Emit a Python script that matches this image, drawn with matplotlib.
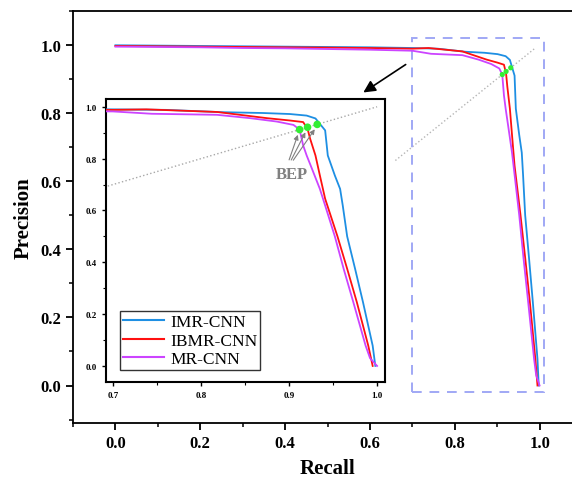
import matplotlib
matplotlib.use("Agg")
import matplotlib.pyplot as plt
from matplotlib.patches import Rectangle
import numpy as np

plt.rcParams['font.family'] = ['Liberation Serif', 'DejaVu Serif']

# precision-recall curves
recall_imr = [0.0, 0.1, 0.2, 0.3, 0.4, 0.5, 0.6, 0.7, 0.76, 0.825, 0.87, 0.901, 0.92,
              0.93, 0.935, 0.941, 0.944, 0.952, 0.958, 0.961, 0.966, 0.975, 0.984, 0.995, 0.998]
prec_imr = [0.998, 0.997, 0.996, 0.995, 0.994, 0.993, 0.992, 0.99, 0.988, 0.979, 0.976, 0.972, 0.966,
            0.955, 0.934, 0.909, 0.812, 0.735, 0.683, 0.619, 0.5, 0.375, 0.246, 0.078, 0.0]

recall_ibmr = [0.0, 0.1, 0.2, 0.3, 0.4, 0.5, 0.6, 0.7, 0.738, 0.818, 0.844, 0.875, 0.901, 0.916,
               0.921, 0.924, 0.930, 0.935, 0.941, 0.955, 0.966, 0.977, 0.990, 0.995]
prec_ibmr = [0.996, 0.995, 0.994, 0.993, 0.992, 0.991, 0.99, 0.988, 0.99, 0.98, 0.969, 0.956, 0.947, 0.941,
             0.915, 0.876, 0.812, 0.735, 0.645, 0.5, 0.375, 0.246, 0.078, 0.0]

recall_mr = [0.0, 0.1, 0.2, 0.3, 0.4, 0.5, 0.6, 0.7, 0.744, 0.818, 0.856, 0.886, 0.905, 0.912,
             0.916, 0.92, 0.926, 0.935, 0.941, 0.952, 0.962, 0.973, 0.987, 0.992, 1.0]
prec_mr = [0.994, 0.993, 0.992, 0.99, 0.989, 0.987, 0.985, 0.982, 0.973, 0.969, 0.956, 0.943, 0.93, 0.912,
           0.851, 0.812, 0.761, 0.683, 0.619, 0.5, 0.375, 0.246, 0.078, 0.03, 0.0]

# break-even points (recall == precision)
bep = [0.912, 0.921, 0.932]

labels = ["IMR-CNN", "IBMR-CNN", "MR-CNN"]
colors = ["#1e8fe3", "#ff1010", "#cc44ff"]
series = [(recall_imr, prec_imr), (recall_ibmr, prec_ibmr), (recall_mr, prec_mr)]

fig = plt.figure(figsize=(5.72, 4.81), dpi=100)
W, H = 572, 481

# main axes (right spine falls outside the picture, like the cropped original)
ax = fig.add_axes([73 / W, 1 - 424 / H, (582 - 73) / W, (424 - 11.5) / H])
ax.set_xlim(-0.1, 1.1)
ax.set_ylim(-0.11, 1.1)
for (r, p), c in zip(series, colors):
    ax.plot(r, p, color=c, lw=1.3, zorder=3)
ax.plot([0.66, 0.99], [0.66, 0.99], ls=':', color='#b5b5b5', lw=1.0, zorder=2)
ax.scatter(bep, bep, s=14, color='#33ee33', zorder=4, edgecolors='none')
ax.add_patch(Rectangle((0.7, -0.02), 0.31, 1.04, fill=False, edgecolor='#a0a8f5',
                       ls=(0, (5, 4)), lw=1.4, zorder=2))

ax.set_xticks(np.arange(0, 1.01, 0.2))
ax.set_yticks(np.arange(0, 1.01, 0.2))
ax.set_xticks(np.arange(-0.1, 1.11, 0.1), minor=True)
ax.set_yticks(np.arange(-0.1, 1.11, 0.1), minor=True)
ax.tick_params(which='major', direction='out', length=5, width=1.3, labelsize=12)
ax.tick_params(which='minor', direction='out', length=3, width=1.1)
for lab in ax.get_xticklabels() + ax.get_yticklabels():
    lab.set_fontweight('bold')
for s in ax.spines.values():
    s.set_linewidth(1.3)
ax.set_xlabel("Recall", fontsize=15, fontweight='bold', labelpad=5)
ax.set_ylabel("Precision", fontsize=15, fontweight='bold', labelpad=5)

# arrow pointing to the zoomed inset
ax.annotate('', xy=(361, H - 95), xycoords='figure pixels', xytext=(408, H - 64),
            textcoords='figure pixels',
            arrowprops=dict(arrowstyle='-|>', color='k', lw=1.2, mutation_scale=18))

# inset
ins = fig.add_axes([106 / W, 1 - 383 / H, (385 - 106) / W, (383 - 100) / H])
ins.set_xlim(0.692, 1.009)
ins.set_ylim(-0.062, 1.03)
handles = []
for (r, p), c, lb in zip(series, colors, labels):
    h, = ins.plot(r, p, color=c, lw=1.3, label=lb, zorder=3)
    handles.append(h)
ins.plot([0.69, 1.0], [0.69, 1.0], ls=':', color='#a8a8a8', lw=1.0, zorder=2)
ins.scatter(bep, bep, s=30, color='#33ee33', zorder=4, edgecolors='none')
ins.set_xticks([0.7, 0.8, 0.9, 1.0])
ins.set_xticks(np.arange(0.7, 1.001, 0.05), minor=True)
ins.set_yticks(np.arange(0, 1.01, 0.2))
ins.set_yticks(np.arange(0, 1.01, 0.1), minor=True)
ins.tick_params(which='major', direction='out', length=3, width=1.0, labelsize=6.5)
ins.tick_params(which='minor', direction='out', length=2, width=0.8)
for lab in ins.get_xticklabels() + ins.get_yticklabels():
    lab.set_fontweight('bold')
for s in ins.spines.values():
    s.set_linewidth(1.5)

for k, b in enumerate(bep):
    ins.annotate('', xy=(b - 0.001, b - 0.01), xytext=(0.899 + 0.002 * k, 0.785),
                 arrowprops=dict(arrowstyle='-|>', color='#808080', lw=0.8, mutation_scale=7))
ins.text(0.903, 0.74, "BEP", ha='center', va='center', fontsize=12, fontweight='bold',
         color='#808080')

leg = ins.legend(handles=handles, loc='lower left', bbox_to_anchor=(120 / W, 1 - 371 / H),
                 bbox_transform=fig.transFigure, borderaxespad=0, fontsize=12.5,
                 frameon=True, fancybox=False, edgecolor='#333333', framealpha=1,
                 handlelength=2.4, handletextpad=0.35, labelspacing=0.15, borderpad=0.15)
leg.get_frame().set_linewidth(1.0)
for ln in leg.get_lines():
    ln.set_linewidth(1.5)

fig.savefig("out.png", dpi=100)
